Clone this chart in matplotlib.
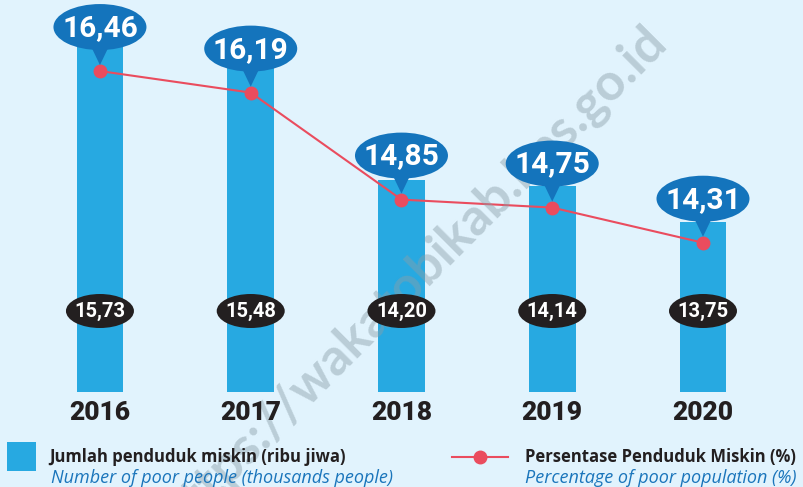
import numpy as np
import matplotlib.pyplot as plt
from matplotlib.patches import Ellipse, Polygon, Rectangle
from matplotlib.transforms import IdentityTransform
from matplotlib.lines import Line2D

# data
years = ['2016', '2017', '2018', '2019', '2020']
jumlah = [15.73, 15.48, 14.20, 14.14, 13.75]   # ribu jiwa
persen = [16.46, 16.19, 14.85, 14.75, 14.31]   # %

bg = '#e1f3fd'
bar_c = '#27a9e1'
bubble_c = '#1474bc'
line_c = '#ea4c5e'
dark = '#231f20'
W, H = 804, 487

fig = plt.figure(figsize=(W / 100, H / 100), dpi=100)
fig.patch.set_facecolor(bg)

ax = fig.add_axes([0, 95 / H, 1, 392 / H])
ax.set_facecolor('none')
x = np.arange(len(years))
ax.bar(x, jumlah, width=0.31, color=bar_c, zorder=1)
ax.set_xlim(-0.663, 4.67)
ax.set_ylim(11.92, 16.135)
ax.axis('off')

ax2 = ax.twinx()
ax2.set_ylim(12.44, 17.35)
ax2.axis('off')
ax2.plot(x, persen, color=line_c, lw=1.5, marker='o', ms=9, zorder=3)

ident = IdentityTransform()

# watermark
fig.text(0.516, 0.43, 'https://wakatobikab.bps.go.id', rotation=45,
         ha='center', va='center', fontsize=37, fontweight='bold',
         family='Lato', color='#8a9ea8', alpha=0.45, zorder=0)

for i in range(len(years)):
    # speech bubble above the point
    cx, cy = ax2.transData.transform((x[i], persen[i]))
    by = cy + 44
    tail = Polygon([[cx - 11, by - 15], [cx + 11, by - 15], [cx, cy + 6]],
                   closed=True, facecolor=bubble_c, edgecolor='none',
                   transform=ident, zorder=4)
    fig.add_artist(tail)
    fig.add_artist(Ellipse((cx, by), 93, 46, facecolor=bubble_c,
                           edgecolor='none', transform=ident, zorder=5))
    fig.text(cx / W, (by - 1) / H, f'{persen[i]:.2f}'.replace('.', ','),
             ha='center', va='center', color='white', fontsize=21.5,
             fontweight='bold', family='Roboto', zorder=6)

    # black label on the bar
    bx = ax.transData.transform((x[i], jumlah[i]))[0]
    fig.add_artist(Ellipse((bx, H - 311), 68, 34, facecolor=dark,
                           edgecolor='none', transform=ident, zorder=5))
    fig.text(bx / W, (H - 311.5) / H, f'{jumlah[i]:.2f}'.replace('.', ','),
             ha='center', va='center', color='white', fontsize=14.5,
             fontweight='bold', family='Roboto', zorder=6)

    # year label
    fig.text(bx / W, (H - 413) / H, years[i], ha='center', va='center',
             color=dark, fontsize=19, fontweight='heavy', family='Roboto')

# legend
fig.add_artist(Rectangle((7 / W, (H - 471) / H), 29 / W, 29 / H,
                         facecolor=bar_c, edgecolor='none',
                         transform=fig.transFigure))
fig.text(49 / W, (H - 457) / H, 'Jumlah penduduk miskin (ribu jiwa)',
         ha='left', va='center', color=dark, fontsize=12,
         fontweight='bold', family='Open Sans')
fig.text(51 / W, (H - 478) / H, 'Number of poor people (thousands people)',
         ha='left', va='center', color='#1a75bb', fontsize=13,
         style='italic', family='Open Sans')

fig.add_artist(Line2D([452 / W, 508 / W], [(H - 457) / H, (H - 457) / H],
                      color=line_c, lw=1.5, transform=fig.transFigure))
fig.add_artist(Line2D([480 / W], [(H - 457) / H], color=line_c, marker='o',
                      ms=9, transform=fig.transFigure))
fig.text(525 / W, (H - 457) / H, 'Persentase Penduduk Miskin (%)',
         ha='left', va='center', color=dark, fontsize=12,
         fontweight='bold', family='Open Sans')
fig.text(525 / W, (H - 478) / H, 'Percentage of poor population (%)',
         ha='left', va='center', color='#1a75bb', fontsize=13,
         style='italic', family='Open Sans')

fig.savefig('out.png', dpi=100, facecolor=bg)
